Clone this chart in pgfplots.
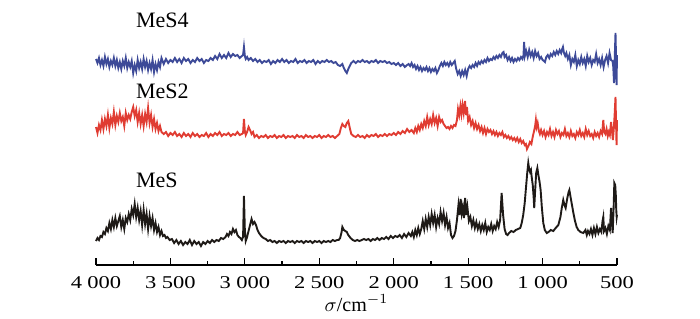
\documentclass[border=0pt]{standalone}
\usepackage{fontspec}
\setmainfont{Liberation Serif}
\newfontfamily\tickfont[FakeStretch=1.25]{Liberation Serif}
\usepackage{pgfplots}
\pgfplotsset{compat=1.18}
\definecolor{cblue}{HTML}{3D4A98}
\definecolor{cred}{HTML}{E03C32}
\definecolor{cblack}{HTML}{1E1A17}
\begin{document}
\begin{tikzpicture}
\path[use as bounding box] (-48pt,-26.5pt) rectangle (302pt,132.5pt);
\begin{axis}[
 at={(0,0)}, anchor=south west,
 scale only axis, width=260.5pt, height=122.5pt,
 xmin=500, xmax=4000, ymin=0, ymax=245, x dir=reverse,
 axis x line=bottom, axis y line=none,
 axis line style={-, line width=0.6pt},
 xtick={500,1000,...,4000}, minor x tick num=1,
 xtick align=inside, major tick length=3.6pt, minor tick length=1.8pt,
 tick style={line width=0.6pt, black},
 /pgf/number format/assume math mode=true,
 /pgf/number format/1000 sep={\hspace{0.3em}},
 xticklabel style={font=\tickfont\fontsize{9}{10}\selectfont, anchor=base, yshift=-11.5pt},
 xlabel={$\sigma$/cm$^{-1}$},
 xlabel style={at={(axis description cs:0.5,0)}, anchor=center, yshift=-19pt, font=\fontsize{10}{12}\selectfont},
 clip=false,
]
% MeS (black)
\addplot[cblack, line width=0.95pt] coordinates {
(4000,24)(3990,27)(3980,25)(3970,29)(3960,28)(3950,33)(3940,31)(3930,37)(3920,34)(3910,42)
(3900,36)(3890,45)(3880,38)(3870,47)(3860,39)(3850,44)(3840,49)(3830,38)(3820,45)(3810,36)
(3800,47)(3790,43)(3780,51)(3770,45)(3760,56)(3750,50)(3740,61)(3730,48)(3720,57)(3710,45)
(3700,54)(3690,40)(3680,55)(3670,41)(3660,51)(3650,36)(3640,49)(3630,39)(3620,47)(3610,35)
(3600,42)(3590,33)(3580,38)(3570,30)(3560,34)(3550,29)(3540,30)(3530,27)(3520,28)(3505,25)
(3490,26)(3475,22)(3460,25)(3445,21)(3430,24)(3415,20)(3400,23)(3385,21)(3370,25)(3355,20)
(3340,24)(3325,21)(3310,23)(3295,19)(3280,23)(3265,21)(3250,24)(3235,22)(3220,25)(3205,23)
(3190,25)(3175,24)(3160,27)(3145,26)(3130,28)(3120,31)(3110,29)(3100,33)(3090,31)(3080,36)
(3070,33)(3060,35)(3050,30)(3040,28)(3030,27)(3020,25)(3012,28)(3006,69)(3000,35)(2994,24)
(2985,28)(2975,34)(2965,40)(2955,46)(2945,41)(2935,43)(2925,40)(2915,35)(2905,32)(2890,29)
(2875,27)(2860,26)(2845,24)(2830,25)(2815,23)(2800,24)(2785,22)(2770,24)(2755,23)(2740,24)
(2725,22)(2710,24)(2695,23)(2680,24)(2665,22)(2650,24)(2635,23)(2620,24)(2605,22)(2590,24)
(2575,23)(2560,24)(2545,22)(2530,24)(2515,23)(2500,24)(2485,22)(2470,24)(2455,23)(2440,24)
(2425,23)(2410,25)(2395,24)(2380,25)(2370,25)(2360,27)(2350,33)(2345,38)(2335,35)(2325,34)
(2315,33)(2305,30)(2290,27)(2275,25)(2260,24)(2245,25)(2230,24)(2215,25)(2200,26)(2185,25)
(2170,26)(2155,24)(2140,26)(2125,25)(2110,27)(2095,25)(2080,27)(2065,26)(2050,28)(2035,26)
(2020,29)(2005,27)(1990,29)(1975,28)(1960,30)(1945,27)(1930,31)(1915,28)(1900,32)(1885,29)
(1875,33)(1865,28)(1855,35)(1845,30)(1835,37)(1825,31)(1815,36)(1805,44)(1795,36)(1785,46)
(1775,38)(1765,48)(1755,40)(1745,51)(1735,42)(1725,50)(1715,38)(1705,47)(1695,41)(1685,53)
(1675,44)(1665,52)(1655,40)(1645,48)(1635,37)(1625,42)(1615,30)(1605,27)(1595,29)(1585,34)
(1575,45)(1565,60)(1558,50)(1550,66)(1543,52)(1536,58)(1528,47)(1520,67)(1512,50)(1505,58)
(1495,44)(1485,48)(1475,39)(1465,45)(1455,37)(1445,43)(1435,36)(1425,41)(1415,34)(1405,40)
(1395,35)(1385,42)(1375,33)(1365,38)(1355,35)(1345,41)(1335,34)(1325,39)(1315,36)(1305,43)
(1295,38)(1285,45)(1275,72)(1265,50)(1255,36)(1245,31)(1235,30)(1225,32)(1210,34)(1195,33)
(1180,35)(1165,36)(1150,37)(1140,42)(1130,50)(1120,62)(1111,78)(1103,92)(1096,102)(1090,96)
(1084,93)(1078,95)(1073,88)(1066,80)(1060,68)(1056,57)(1050,74)(1043,92)(1035,97)(1028,90)
(1020,83)(1013,75)(1005,58)(995,42)(985,35)(972,32)(960,33)(945,35)(928,34)(912,37)
(894,40)(880,48)(871,57)(861,65)(853,60)(845,57)(835,66)(825,73)(820,75)(812,68)
(800,58)(793,52)(782,44)(771,38)(760,35)(745,33)(726,32)(712,35)(703,30)(695,34)
(685,31)(675,36)(665,30)(655,37)(645,31)(635,38)(625,32)(615,36)(605,33)(597,44)
(592,48)(587,34)(578,37)(568,31)(558,39)(548,35)(540,57)(533,40)(529,32)(522,60)
(518,82)(512,80)(508,70)(505,55)(502,48)(500,50)
};
% MeS2 (red)
\addplot[cred, line width=0.95pt] coordinates {
(4000,138)(3990,132)(3980,140)(3970,135)(3960,145)(3950,136)(3940,146)(3930,139)(3920,150)(3910,137)
(3900,147)(3890,141)(3880,153)(3870,140)(3860,149)(3850,143)(3840,152)(3830,144)(3820,148)(3810,139)
(3800,152)(3790,145)(3780,150)(3770,146)(3760,153)(3750,158)(3740,149)(3730,155)(3720,143)(3710,152)
(3700,141)(3690,150)(3680,139)(3670,151)(3660,143)(3650,157)(3640,142)(3630,150)(3620,138)(3610,146)
(3600,136)(3590,142)(3580,134)(3570,139)(3560,133)(3545,131)(3530,133)(3515,129)(3500,132)(3485,130)
(3470,133)(3455,129)(3440,131)(3425,128)(3410,132)(3395,129)(3380,131)(3365,128)(3350,132)(3335,129)
(3320,131)(3305,128)(3290,130)(3275,129)(3260,132)(3245,128)(3230,131)(3215,129)(3200,132)(3185,130)
(3170,133)(3155,129)(3140,131)(3125,130)(3110,132)(3095,129)(3080,131)(3065,130)(3050,133)(3035,130)
(3020,131)(3012,132)(3006,146)(3000,134)(2994,130)(2985,133)(2975,138)(2965,135)(2955,131)(2945,133)
(2935,128)(2920,130)(2905,127)(2890,129)(2875,128)(2860,130)(2845,127)(2830,129)(2815,128)(2800,130)
(2785,127)(2770,129)(2755,128)(2740,130)(2725,127)(2710,129)(2695,128)(2680,129)(2665,127)(2650,130)
(2635,128)(2620,129)(2605,127)(2590,130)(2575,128)(2560,129)(2545,127)(2530,129)(2515,128)(2500,130)
(2485,127)(2470,129)(2455,128)(2440,130)(2425,128)(2410,129)(2395,127)(2380,129)(2365,131)(2355,137)
(2345,141)(2335,139)(2325,138)(2315,142)(2305,144)(2295,137)(2285,131)(2270,129)(2255,128)(2240,130)
(2225,128)(2210,129)(2195,127)(2180,130)(2165,128)(2150,130)(2135,129)(2120,131)(2105,128)(2090,130)
(2075,129)(2060,131)(2045,129)(2030,131)(2015,130)(2000,132)(1985,130)(1970,133)(1955,131)(1940,134)
(1925,132)(1910,136)(1895,133)(1880,135)(1865,132)(1855,137)(1845,133)(1835,139)(1825,135)(1815,141)
(1805,137)(1795,144)(1785,139)(1775,148)(1765,140)(1755,146)(1745,141)(1735,150)(1725,142)(1715,147)
(1705,139)(1695,148)(1685,143)(1675,145)(1665,141)(1655,139)(1645,137)(1635,138)(1625,136)(1615,139)
(1605,137)(1595,140)(1585,139)(1575,145)(1568,156)(1560,150)(1552,159)(1545,151)(1538,160)(1530,152)
(1521,164)(1514,150)(1508,158)(1500,144)(1490,148)(1480,140)(1470,144)(1460,137)(1450,142)(1440,136)
(1430,140)(1420,134)(1410,138)(1400,132)(1390,137)(1380,131)(1370,136)(1360,133)(1350,135)(1340,131)
(1330,134)(1320,130)(1310,133)(1300,129)(1290,132)(1280,130)(1270,133)(1260,128)(1250,130)(1240,127)
(1230,129)(1220,126)(1210,128)(1200,125)(1190,127)(1180,124)(1170,127)(1160,123)(1150,126)(1140,122)
(1130,124)(1120,120)(1112,121)(1105,116)(1095,119)(1085,123)(1075,121)(1065,129)(1057,134)(1050,139)
(1045,145)(1040,138)(1033,142)(1025,134)(1018,131)(1010,135)(1000,130)(990,134)(980,128)(970,133)
(960,130)(950,136)(940,129)(930,133)(920,128)(910,135)(900,131)(890,134)(880,128)(870,132)
(860,130)(850,136)(840,129)(830,132)(820,128)(810,134)(800,129)(790,131)(780,127)(770,133)
(760,130)(750,135)(740,129)(730,132)(720,128)(710,136)(700,130)(690,134)(680,129)(670,131)
(660,127)(650,133)(640,129)(630,132)(620,128)(610,134)(600,131)(592,145)(586,133)(578,131)
(570,136)(562,129)(555,133)(548,130)(540,143)(533,133)(528,125)(522,135)(516,150)(510,168)
(506,140)(503,120)(500,145)
};
% MeS4 (blue)
\addplot[cblue, line width=0.95pt] coordinates {
(4000,206)(3990,202)(3980,207)(3970,200)(3960,205)(3950,199)(3940,208)(3930,201)(3920,206)(3910,198)
(3900,204)(3890,200)(3880,207)(3870,199)(3860,205)(3850,197)(3840,203)(3830,196)(3820,204)(3810,199)
(3800,207)(3790,197)(3780,203)(3770,198)(3760,204)(3750,192)(3740,200)(3730,194)(3720,205)(3710,197)
(3700,203)(3690,196)(3680,206)(3670,198)(3660,204)(3650,195)(3640,202)(3630,196)(3620,205)(3610,193)
(3600,201)(3590,195)(3580,203)(3570,198)(3560,207)(3545,201)(3530,206)(3515,202)(3500,205)(3485,203)
(3470,207)(3455,203)(3440,206)(3425,202)(3410,207)(3395,204)(3380,206)(3365,202)(3350,205)(3335,203)
(3320,207)(3305,204)(3290,206)(3275,202)(3260,205)(3245,204)(3230,207)(3215,205)(3200,209)(3185,206)
(3170,211)(3155,207)(3140,210)(3125,207)(3110,212)(3095,208)(3080,211)(3065,209)(3050,210)(3035,207)
(3020,209)(3012,210)(3006,218)(3000,209)(2994,206)(2985,208)(2975,205)(2960,207)(2945,204)(2930,206)
(2915,203)(2900,205)(2885,202)(2870,204)(2855,203)(2840,205)(2825,201)(2810,204)(2795,202)(2780,205)
(2765,203)(2750,206)(2735,203)(2720,205)(2705,202)(2690,204)(2675,203)(2660,206)(2645,202)(2630,204)
(2615,203)(2600,205)(2585,202)(2570,204)(2555,203)(2540,205)(2525,201)(2510,204)(2495,202)(2480,204)
(2465,203)(2450,205)(2435,203)(2420,204)(2405,202)(2390,203)(2375,200)(2360,199)(2345,201)(2335,197)
(2325,194)(2315,192)(2305,196)(2295,199)(2285,202)(2270,204)(2255,202)(2240,204)(2225,203)(2210,205)
(2195,203)(2180,204)(2165,202)(2150,204)(2135,203)(2120,205)(2105,202)(2090,204)(2075,203)(2060,204)
(2045,202)(2030,203)(2015,201)(2000,202)(1985,200)(1970,202)(1955,199)(1940,201)(1925,198)(1910,200)
(1900,201)(1890,199)(1880,202)(1870,198)(1860,200)(1850,196)(1840,199)(1830,195)(1820,198)(1810,194)
(1800,197)(1790,195)(1780,198)(1770,194)(1760,197)(1750,193)(1740,196)(1730,194)(1720,197)(1710,192)
(1700,195)(1690,199)(1680,202)(1670,199)(1660,203)(1650,200)(1640,202)(1630,199)(1620,203)(1610,200)
(1600,202)(1590,204)(1580,196)(1570,191)(1560,194)(1550,189)(1540,194)(1530,190)(1520,195)(1510,189)
(1500,196)(1490,199)(1480,197)(1470,200)(1460,198)(1450,202)(1440,199)(1430,203)(1420,201)(1410,204)
(1400,202)(1390,205)(1380,203)(1370,207)(1360,204)(1350,206)(1340,205)(1330,208)(1320,206)(1310,209)
(1300,207)(1290,210)(1280,208)(1270,212)(1262,213)(1255,208)(1245,210)(1235,205)(1225,208)(1215,204)
(1205,207)(1195,203)(1185,206)(1175,204)(1165,207)(1155,205)(1145,208)(1135,206)(1128,210)(1124,223)
(1119,209)(1110,214)(1100,208)(1090,215)(1080,209)(1070,213)(1060,207)(1050,214)(1040,209)(1030,212)
(1020,206)(1010,208)(1000,205)(990,204)(984,203)(975,208)(965,210)(955,207)(945,211)(935,209)
(925,213)(915,210)(905,214)(895,211)(885,215)(875,212)(868,216)(863,218)(856,212)(848,209)
(840,212)(830,206)(820,210)(810,200)(800,206)(790,203)(780,210)(770,199)(760,205)(750,201)
(740,208)(730,202)(720,206)(710,199)(700,209)(690,203)(680,207)(670,200)(660,205)(650,203)
(640,211)(630,202)(620,206)(610,200)(600,207)(590,198)(580,205)(570,209)(560,202)(550,212)
(540,205)(530,204)(525,198)(520,182)(515,208)(510,232)(506,205)(503,180)(500,210)
};
\node[anchor=base west, font=\fontsize{11}{13}\selectfont] at (axis cs:3778,238) {MeS4};
\node[anchor=base west, font=\fontsize{11}{13}\selectfont] at (axis cs:3778,167) {MeS2};
\node[anchor=base west, font=\fontsize{11}{13}\selectfont] at (axis cs:3778,78) {MeS};
\end{axis}
\end{tikzpicture}
\end{document}
